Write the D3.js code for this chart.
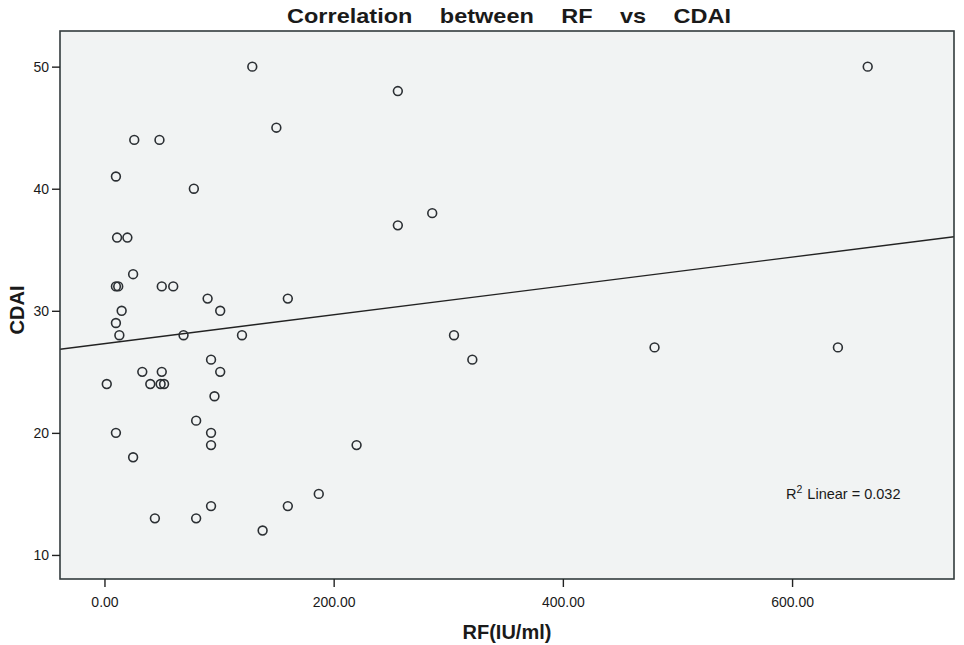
<!DOCTYPE html>
<html>
<head>
<meta charset="utf-8">
<script src="https://cdnjs.cloudflare.com/ajax/libs/d3/7.8.5/d3.min.js"></script>
<style>
  html, body { margin: 0; padding: 0; background: #ffffff; }
  svg { display: block; }
  text { font-family: "Liberation Sans", Arial, sans-serif; fill: #1a1a1a; }
</style>
</head>
<body>
<svg id="chart" width="964" height="645"></svg>
<script>
// ---- Data ----
const rfValues   = [129, 256, 666, 150, 26, 48, 10, 78, 286, 256, 11, 20, 25, 10, 12, 50, 60, 90, 160, 15,
                    101, 10, 13, 69, 120, 305, 93, 321, 480, 640, 33, 50, 101, 2, 40, 49, 52, 96, 80, 10,
                    93, 93, 220, 25, 187, 93, 160, 44, 80, 138];
const cdaiValues = [50, 48, 50, 45, 44, 44, 41, 40, 38, 37, 36, 36, 33, 32, 32, 32, 32, 31, 31, 30,
                    30, 29, 28, 28, 28, 28, 26, 26, 27, 27, 25, 25, 25, 24, 24, 24, 24, 23, 21, 20,
                    20, 19, 19, 18, 15, 14, 14, 13, 13, 12];
const xTicks = [0, 200, 400, 600];
const yTicks = [10, 20, 30, 40, 50];
const fitIntercept = 27.31;   // linear fit
const fitSlope = 0.01181;
const titleWords = ["Correlation", "between", "RF", "vs", "CDAI"];
const xTitle = "RF(IU/ml)";
const yTitle = "CDAI";
const r2Label = "0.032";

// ---- Layout ----
const svg = d3.select("#chart");
const plot = { left: 60, right: 954, top: 31, bottom: 579 };

const x = d3.scaleLinear().domain([-38.8, 741.3]).range([plot.left, plot.right]);
const y = d3.scaleLinear().domain([8.03, 52.92]).range([plot.bottom, plot.top]);

// background of plot
svg.append("rect")
  .attr("x", plot.left).attr("y", plot.top)
  .attr("width", plot.right - plot.left).attr("height", plot.bottom - plot.top)
  .attr("fill", "#f1f3f3");

svg.append("clipPath").attr("id", "clip").append("rect")
  .attr("x", plot.left).attr("y", plot.top)
  .attr("width", plot.right - plot.left).attr("height", plot.bottom - plot.top);

// regression line
const dom = x.domain();
svg.append("line")
  .attr("clip-path", "url(#clip)")
  .attr("x1", x(dom[0])).attr("y1", y(fitIntercept + fitSlope * dom[0]))
  .attr("x2", x(dom[1])).attr("y2", y(fitIntercept + fitSlope * dom[1]))
  .attr("stroke", "#222").attr("stroke-width", 1.4);

// points
const pts = rfValues.map((v, i) => ({ x: v, y: cdaiValues[i] }));
svg.append("g").selectAll("circle").data(pts).join("circle")
  .attr("cx", d => x(d.x)).attr("cy", d => y(d.y)).attr("r", 4.4)
  .attr("fill", "none").attr("stroke", "#2b2f33").attr("stroke-width", 1.6);

// frame
svg.append("rect")
  .attr("x", plot.left).attr("y", plot.top)
  .attr("width", plot.right - plot.left).attr("height", plot.bottom - plot.top)
  .attr("fill", "none").attr("stroke", "#333b3d").attr("stroke-width", 1.6);

// axes
const font = '"Liberation Sans", Arial, sans-serif';
const xAxis = d3.axisBottom(x).tickValues(xTicks).tickFormat(d3.format(".2f")).tickSize(8).tickSizeOuter(0);
const gx = svg.append("g").attr("transform", `translate(0,${plot.bottom})`).call(xAxis);
gx.select(".domain").remove();
gx.selectAll("line").attr("stroke", "#222").attr("stroke-width", 1.4);
gx.selectAll("text").attr("font-size", 14).attr("dy", "1.2em").attr("fill", "#1a1a1a")
  .style("font-family", font);

const yAxis = d3.axisLeft(y).tickValues(yTicks).tickFormat(d3.format("d")).tickSize(8).tickSizeOuter(0);
const gy = svg.append("g").attr("transform", `translate(${plot.left},0)`).call(yAxis);
gy.select(".domain").remove();
gy.selectAll("line").attr("stroke", "#222").attr("stroke-width", 1.4);
gy.selectAll("text").attr("font-size", 14).attr("x", -11).attr("fill", "#1a1a1a")
  .style("font-family", font);

// title: slightly wide lettering, words spread across the reference's width
const sx = 1.12, titleLeft = 287, titleWidth = 444;
const title = svg.append("text")
  .attr("transform", `translate(${titleLeft},23) scale(${sx},1)`)
  .attr("font-size", 21).attr("font-weight", "bold")
  .text(titleWords.join(" "));
const tl = title.node().getComputedTextLength();
title.attr("word-spacing", Math.max(0, (titleWidth / sx - tl) / (titleWords.length - 1)));

svg.append("text")
  .attr("x", 507).attr("y", 639).attr("text-anchor", "middle")
  .attr("font-size", 20).attr("font-weight", "bold")
  .text(xTitle);

svg.append("text")
  .attr("transform", `translate(24,310) rotate(-90)`)
  .attr("text-anchor", "middle")
  .attr("font-size", 20).attr("font-weight", "bold")
  .text(yTitle);

// R² annotation
const r2 = svg.append("text").attr("x", 786).attr("y", 499).attr("font-size", 14.5);
r2.append("tspan").text("R");
r2.append("tspan").attr("font-size", 10.5).attr("dy", -6).text("2");
r2.append("tspan").attr("dy", 6).attr("dx", 1).text(" Linear = " + r2Label);
</script>
</body>
</html>
